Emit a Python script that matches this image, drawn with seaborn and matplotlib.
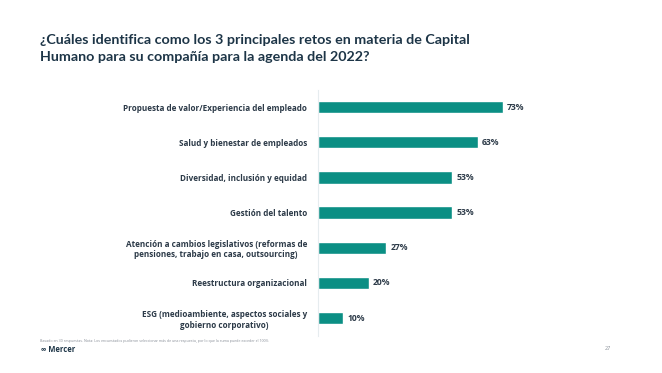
import matplotlib
matplotlib.use('Agg')
import matplotlib.pyplot as plt
import seaborn as sns
import pandas as pd

# datos de la encuesta
retos = [
    'Propuesta de valor/Experiencia del empleado',
    'Salud y bienestar de empleados',
    'Diversidad, inclusión y equidad',
    'Gestión del talento',
    'Atención a cambios legislativos (reformas de\npensiones, trabajo en casa, outsourcing)',
    'Reestructura organizacional',
    'ESG (medioambiente, aspectos sociales y\ngobierno corporativo)',
]
porcentajes = [73, 63, 53, 53, 27, 20, 10]

titulo = '¿Cuáles identifica como los 3 principales retos en materia de Capital\nHumano para su compañía para la agenda del 2022?'
nota = ('Basado en 30 respuestas. Nota: Los encuestados pudieron seleccionar más de una respuesta, '
        'por lo que la suma puede exceder el 100%')

df = pd.DataFrame({'reto': retos, 'pct': porcentajes})

sns.set_theme(style='white')
plt.rcParams['font.family'] = ['Open Sans', 'DejaVu Sans']

azul = '#1d3547'
verde = '#0b8f84'

fig = plt.figure(figsize=(6.62, 3.73), dpi=100)
ax = fig.add_axes([0.4804, 0.100, 0.383, 0.660])

sns.barplot(data=df, x='pct', y='reto', color=verde, width=0.35,
            saturation=1, ax=ax)

ax.set_xlim(0, 100)
ax.set_ylim(6.5, -0.5)
ax.set_xlabel('')
ax.set_ylabel('')
ax.set_xticks([])
ax.tick_params(axis='y', length=0, pad=8)
for lbl in ax.get_yticklabels():
    lbl.set_fontsize(5.9)
    lbl.set_fontweight('bold')
    lbl.set_color('#2c3a48')
    lbl.set_horizontalalignment('right')
    lbl.set_multialignment('center')

for s in ['top', 'right', 'bottom']:
    ax.spines[s].set_visible(False)
ax.spines['left'].set_color('#e6ecef')
ax.spines['left'].set_linewidth(0.8)

for i, v in enumerate(porcentajes):
    ax.text(v + 1.5, i, f'{v}%', va='center', ha='left', fontsize=6.2,
            fontweight='bold', color='#2c3a48')

fig.text(0.060, 0.910, titulo, ha='left', va='top', fontsize=10.3,
         fontweight='bold', color=azul, linespacing=1.5,
         family=['Lato', 'DejaVu Sans'])

fig.text(0.060, 0.085, nota, ha='left', va='center', fontsize=2.6, color='#8a9099')
fig.text(0.062, 0.062, '∞ Mercer', ha='left', va='center', fontsize=5.5,
         fontweight='bold', color=azul)
fig.text(0.918, 0.065, '27', ha='center', va='center', fontsize=4, color='#8a9099')

fig.savefig('out.png', dpi=100, facecolor='white')
